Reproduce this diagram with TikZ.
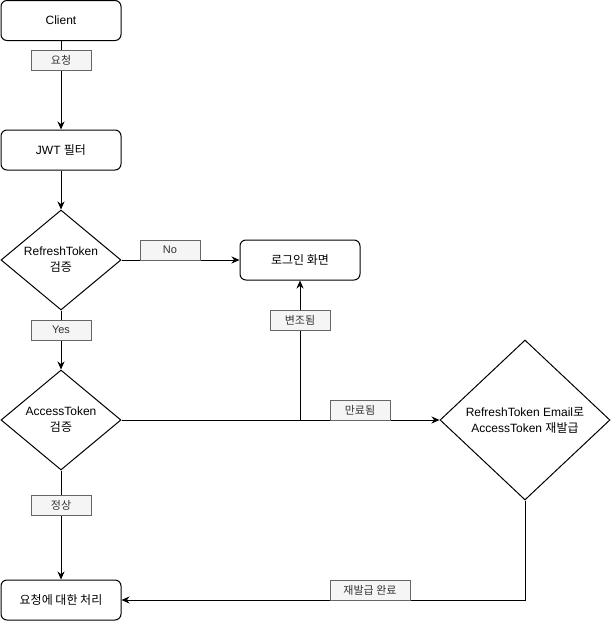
\documentclass[tikz,border=0pt]{standalone}
\usepackage{fontspec}
\setmainfont{Liberation Sans}
\newfontfamily\kr{Noto Sans CJK KR}
\usetikzlibrary{shapes.geometric,arrows.meta}
\definecolor{lblfill}{HTML}{F5F5F5}
\definecolor{lblborder}{HTML}{666666}
\definecolor{lbltext}{HTML}{333333}
\begin{document}
\begin{tikzpicture}[x=1pt,y=-1pt,line width=1pt,
 box/.style={draw,rounded corners=6pt,minimum width=120pt,minimum height=40pt,inner sep=0pt,font=\fontsize{12}{15}\selectfont,align=center},
 dec/.style={draw,diamond,inner sep=0pt,font=\fontsize{12}{16}\selectfont,align=center},
 lbl/.style={draw=lblborder,fill=lblfill,text=lbltext,line width=0.8pt,minimum width=60pt,minimum height=20pt,inner sep=0pt,font=\fontsize{11}{13}\selectfont},
 conn/.style={line width=1pt,-{Stealth[length=8pt,width=7pt]}}]
\useasboundingbox (0,0) rectangle (611,621);

\node[box] (client) at (61,20.5) {Client};
\node[box] (jwt) at (61,150) {JWT {\kr 필터}};
\node[dec,minimum width=120pt,minimum height=100pt,shape aspect=1.2] (rt) at (61,260) {RefreshToken\\{\kr 검증}};
\node[box] (login) at (300,260) {{\kr 로그인 화면}};
\node[dec,minimum width=120pt,minimum height=100pt,shape aspect=1.2] (at) at (61,420) {AccessToken\\{\kr 검증}};
\node[dec,minimum width=170pt,minimum height=160pt,shape aspect=1.06] (email) at (525,420) {RefreshToken Email{\kr 로}\\AccessToken {\kr 재발급}};
\node[box] (proc) at (61,600) {{\kr 요청에 대한 처리}};
\coordinate (split) at (300,420);
\coordinate (corner) at (525,600);

\draw[conn] (client) -- (jwt);
\draw[conn] (jwt) -- (rt.north);
\draw[conn] (rt.east) -- (login.west);
\draw[conn] (rt.south) -- (at.north);
\draw[conn] (at.east) -- (email.west);
\draw[conn] (split) -- (login.south);
\draw[conn] (at.south) -- (proc.north);
\draw[conn] (email.south) -- (corner) -- (proc.east);

\node[lbl] (l1) at (61,60) {\kr 요청};
\node[lbl] (l2) at (170,250) {No};
\node[lbl] (l3) at (61,330) {Yes};
\node[lbl] (l4) at (300,320) {\kr 변조됨};
\node[lbl] (l5) at (360,410) {\kr 만료됨};
\node[lbl] (l6) at (61,505) {\kr 정상};
\node[lbl,minimum width=80pt] (l7) at (370,590) {\kr 재발급 완료};
\end{tikzpicture}
\end{document}
